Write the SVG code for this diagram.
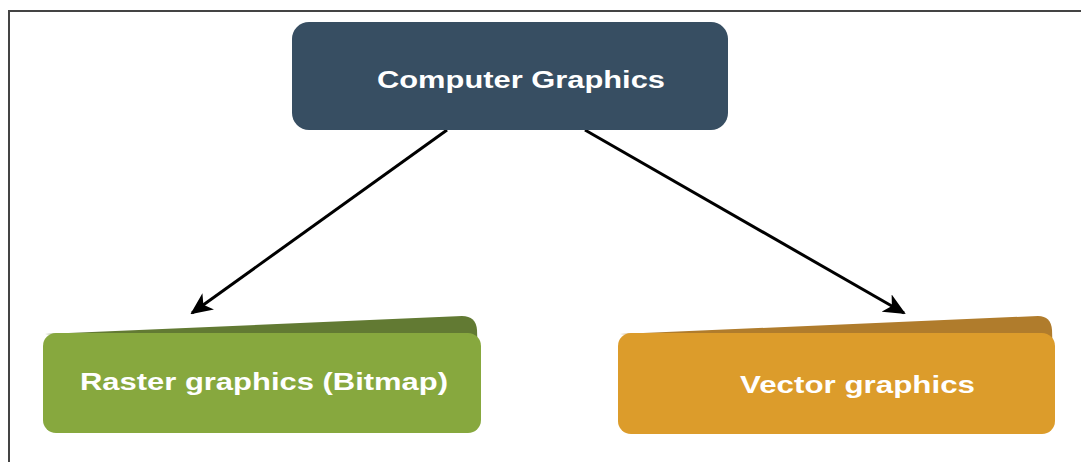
<svg xmlns="http://www.w3.org/2000/svg" width="1081" height="462" viewBox="0 0 1081 462">
<defs>
<style>
.lbl{font-family:"Liberation Sans",Arial,sans-serif;font-weight:bold;font-size:23px;fill:#ffffff}
.conn{stroke:#000;stroke-width:3;fill:none}
</style>
<marker id="ah" viewBox="0 0 22 20" refX="20" refY="10" markerWidth="22" markerHeight="20" markerUnits="userSpaceOnUse" orient="auto">
<path d="M0,0 L22,10 L0,20 L6,10 Z" fill="#000"/>
</marker>
</defs>
<rect width="1081" height="462" fill="#fff"/>
<path d="M9,462 V11 H1081" fill="none" stroke="#444" stroke-width="2"/>
<g id="connectors">
<line class="conn" x1="447" y1="130" x2="192" y2="313" marker-end="url(#ah)"/>
<line class="conn" x1="585" y1="130" x2="904" y2="313" marker-end="url(#ah)"/>
</g>
<g id="node-computer-graphics">
<rect x="292" y="22" width="436" height="108" rx="17" fill="#374e62"/>
<text class="lbl" x="377" y="88" textLength="288" lengthAdjust="spacingAndGlyphs">Computer Graphics</text>
</g>
<g id="node-raster">
<path d="M45,334 L462,316 Q476,316 477,330 L478,360 L470,360 Z" fill="#627a33"/>
<rect x="43" y="333" width="438" height="100" rx="13" fill="#87a83e"/>
<text class="lbl" x="80" y="390" textLength="368" lengthAdjust="spacingAndGlyphs">Raster graphics (Bitmap)</text>
</g>
<g id="node-vector">
<path d="M620,334 L1038,316 Q1051,316 1052,330 L1053,360 L1045,360 Z" fill="#b07c2c"/>
<rect x="618" y="333" width="437" height="101" rx="13" fill="#dc9c2b"/>
<text class="lbl" x="740" y="393" textLength="235" lengthAdjust="spacingAndGlyphs">Vector graphics</text>
</g>
</svg>
